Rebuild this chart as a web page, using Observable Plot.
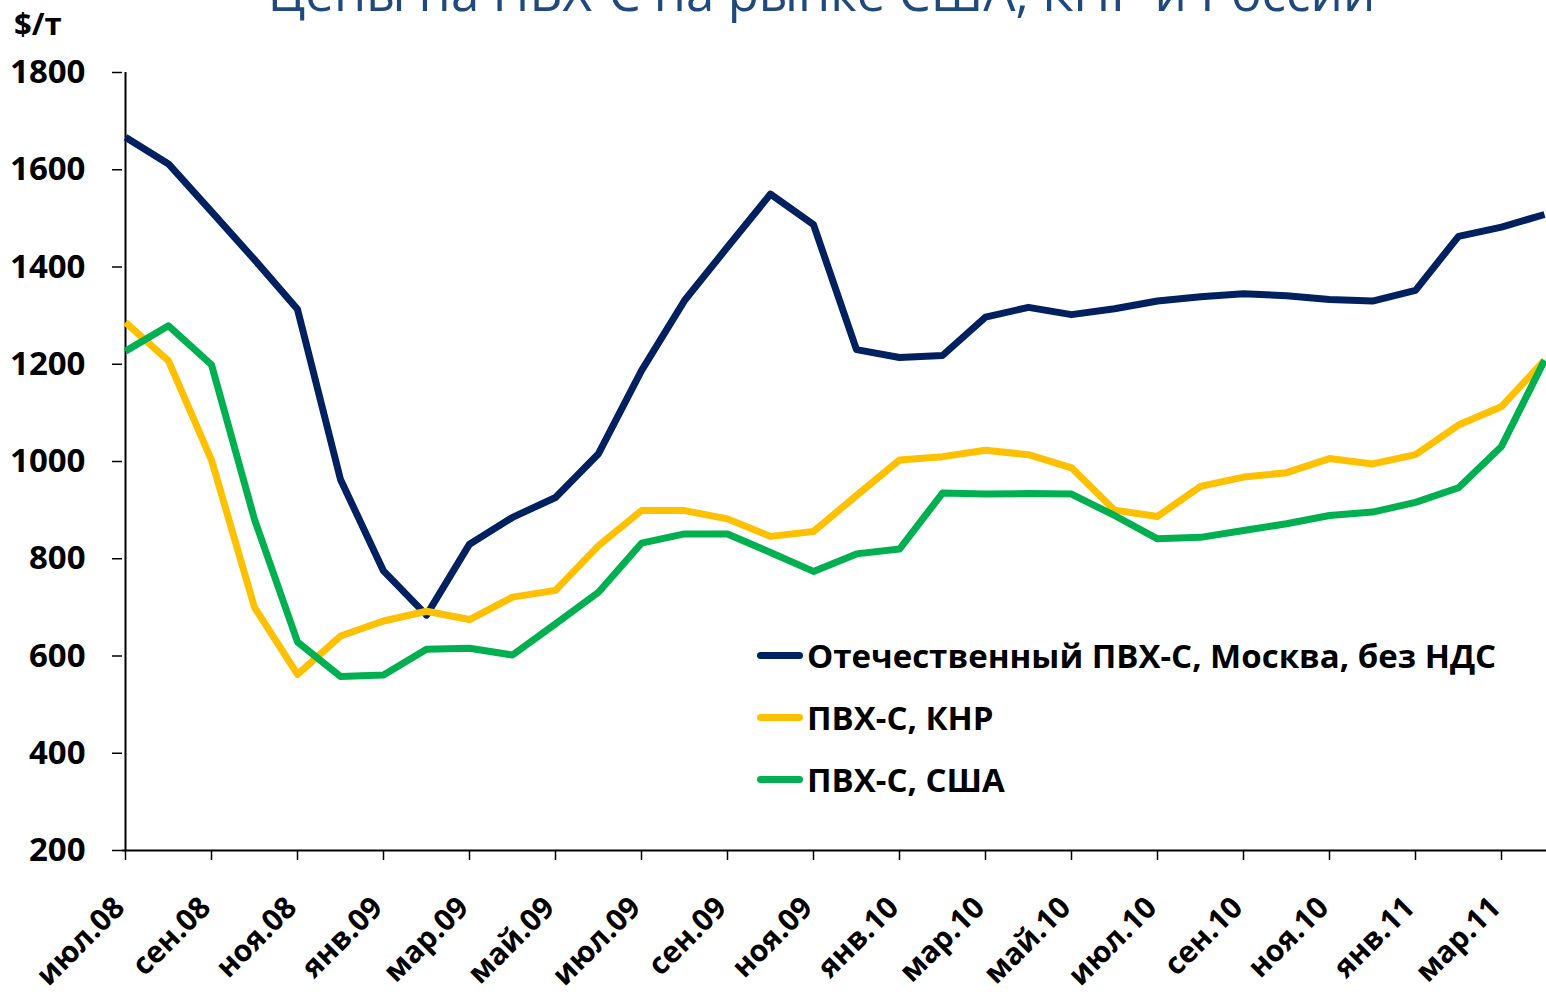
<!DOCTYPE html>
<html><head><meta charset="utf-8">
<script src="https://cdn.jsdelivr.net/npm/d3@7"></script>
<script src="https://cdn.jsdelivr.net/npm/@observablehq/plot@0.6"></script>
<style>
body{margin:0;background:#fff;overflow:hidden}
#wrap{position:relative;width:1546px;height:1001px;overflow:hidden;font-family:"Open Sans",sans-serif}
#title{position:absolute;left:0;width:1643px;text-align:center;top:-34px;font-size:51px;line-height:1;color:#1F497D;white-space:nowrap}
#unit{position:absolute;left:14px;top:8px;font-size:31px;font-weight:bold;line-height:1;color:#000}
#legend{position:absolute;left:757px;top:624px}
.row{display:flex;align-items:center;height:62px}
.sw{width:46px;height:7px;border-radius:4px;margin-right:4px}
.lt{font-size:33px;font-weight:bold;line-height:1;color:#000;white-space:nowrap}
#chart{position:absolute;left:0;top:0}
</style>
</head><body>
<div id="wrap">
<div id="chart"></div>
<div id="title">Цены на ПВХ-С на рынке США, КНР и России</div>
<div id="unit">$/т</div>
<div id="legend"></div>
</div>
<script>
const months = ["июл.08","авг.08","сен.08","окт.08","ноя.08","дек.08","янв.09","фев.09","мар.09","апр.09","май.09","июн.09","июл.09","авг.09","сен.09","окт.09","ноя.09","дек.09","янв.10","фев.10","мар.10","апр.10","май.10","июн.10","июл.10","авг.10","сен.10","окт.10","ноя.10","дек.10","янв.11","фев.11","мар.11","апр.11"];
const moscow = [1667,1612,1514,1415,1313,963,775,684,830,885,926,1016,1187,1331,1441,1550,1487,1230,1214,1218,1297,1317,1302,1314,1330,1339,1345,1341,1333,1330,1352,1463,1482,1508];
const china = [1286,1207,1003,700,562,641,672,692,675,721,735,827,899,899,882,846,856,930,1003,1010,1023,1014,987,900,887,949,968,977,1006,995,1014,1075,1113,1208];
const usa = [1227,1279,1199,881,629,558,561,614,616,602,666,731,832,851,851,813,774,810,820,935,933,934,933,889,841,844,858,872,889,896,916,946,1031,1208];
const seriesNames = ["Отечественный ПВХ-С, Москва, без НДС","ПВХ-С, КНР","ПВХ-С, США"];
const seriesColors = ["#002060","#FFC000","#00B050"];
const seriesValues = [moscow, china, usa];
const yTicks = [200,400,600,800,1000,1200,1400,1600,1800];
const xTickLabels = months.filter((d,i)=>i%2===0);

const lines = seriesValues.map((vals,k)=>
  Plot.line(months.map((m,i)=>({month:m, value:vals[i]})), {x:"month", y:"value", stroke:seriesColors[k], strokeWidth:7, strokeLinejoin:"round", strokeLinecap:"butt"})
);

const chart = Plot.plot({
  width:1546, height:1001,
  marginLeft:122, marginRight:0, marginTop:72, marginBottom:151,
  style:{fontFamily:"Open Sans", color:"#000", background:"transparent", overflow:"visible"},
  x:{type:"point", domain:months, padding:0},
  y:{domain:[200,1800]},
  marks:[
    Plot.axisY({ticks:yTicks, tickFormat:d=>String(d), tickSize:10, tickPadding:27, fontSize:33, fontWeight:"bold", label:null, strokeWidth:1.5}),
    Plot.axisX({ticks:xTickLabels, tickSize:10, strokeWidth:1.5, text:null, label:null}),
    Plot.axisX({ticks:xTickLabels, tickSize:0, tickPadding:52, dx:-6, tickRotate:-45, fontSize:30, fontWeight:"bold", label:null}),
    Plot.ruleX([months[0]], {stroke:"#000", strokeWidth:2}),
    Plot.ruleY([200], {stroke:"#000", strokeWidth:2}),
    ...lines
  ]
});
document.getElementById("chart").appendChild(chart);

const legend = document.getElementById("legend");
seriesNames.forEach((name,k)=>{
  const row = document.createElement("div"); row.className="row";
  const sw = document.createElement("div"); sw.className="sw"; sw.style.background=seriesColors[k];
  const t = document.createElement("div"); t.className="lt"; t.textContent=name;
  row.appendChild(sw); row.appendChild(t); legend.appendChild(row);
});
</script>
</body></html>
